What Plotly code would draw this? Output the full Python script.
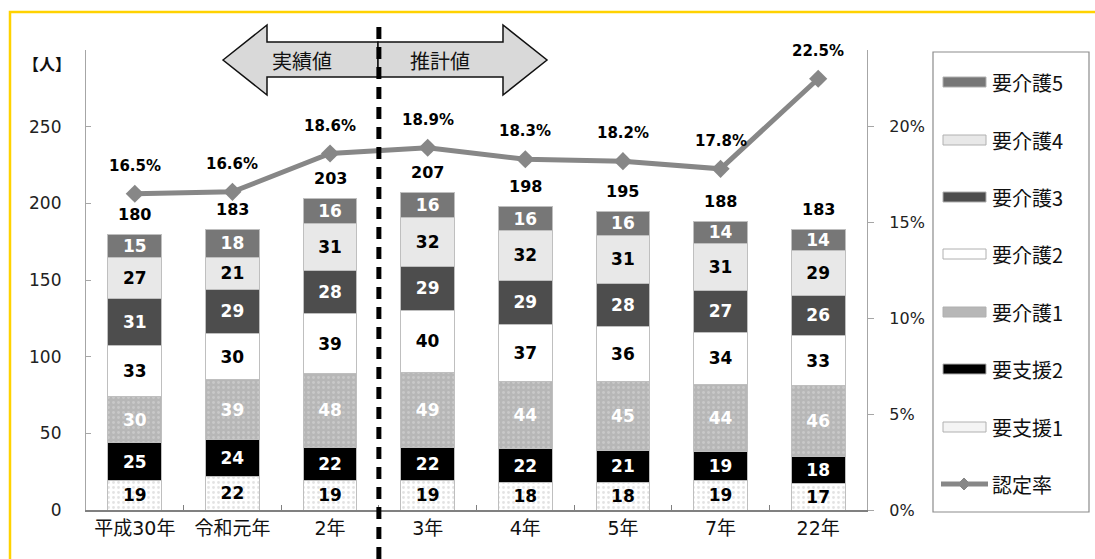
import plotly.graph_objects as go

categories = ["平成30年", "令和元年", "2年", "3年", "4年", "5年", "7年", "22年"]
shien1 = [19, 22, 19, 19, 18, 18, 19, 17]
shien2 = [25, 24, 22, 22, 22, 21, 19, 18]
kaigo1 = [30, 39, 48, 49, 44, 45, 44, 46]
kaigo2 = [33, 30, 39, 40, 37, 36, 34, 33]
kaigo3 = [31, 29, 28, 29, 29, 28, 27, 26]
kaigo4 = [27, 21, 31, 32, 32, 31, 31, 29]
kaigo5 = [15, 18, 16, 16, 16, 16, 14, 14]
totals = [180, 183, 203, 207, 198, 195, 188, 183]
rate = [16.5, 16.6, 18.6, 18.9, 18.3, 18.2, 17.8, 22.5]
left_ticks = [0, 50, 100, 150, 200, 250]
right_ticks = [0, 5, 10, 15, 20]
series_names = ["要支援1", "要支援2", "要介護1", "要介護2", "要介護3", "要介護4", "要介護5"]
rate_name = "認定率"

FONT = "DejaVu Sans, Noto Sans CJK JP"
CJK = "Noto Sans CJK JP"
W, H = 1095, 559
L, R, T, B = 86, 867, 50, 510

def px(x):
    return (x - L) / (R - L)

def py(y):
    return (B - y) / (B - T)

styles = [
    # color, pattern(fg, bg) or None, text color
    ("#ffffff", ("#c8c8c8", "#ffffff"), "#000000"),
    ("#000000", None, "#ffffff"),
    ("#b7b7b7", ("#d9d9d9", "#b7b7b7"), "#ffffff"),
    ("#ffffff", None, "#000000"),
    ("#4d4d4d", None, "#ffffff"),
    ("#e8e8e8", None, "#000000"),
    ("#777777", None, "#ffffff"),
]
values = [shien1, shien2, kaigo1, kaigo2, kaigo3, kaigo4, kaigo5]

fig = go.Figure()
for name, vals, (col, pat, tcol) in zip(series_names, values, styles):
    marker = dict(color=col, line=dict(color="#bfbfbf", width=1))
    if pat:
        marker["pattern"] = dict(shape=".", fgcolor=pat[0], bgcolor=pat[1], size=5, solidity=0.25)
    fig.add_trace(go.Bar(
        x=categories, y=vals, name=name, marker=marker,
        text=[str(v) for v in vals], textposition="inside", insidetextanchor="middle",
        textfont=dict(family=FONT, size=17, color=tcol, weight="bold"),
        showlegend=False, cliponaxis=False,
    ))

fig.add_trace(go.Scatter(
    x=categories, y=rate, yaxis="y2", mode="lines+markers", name=rate_name,
    line=dict(color="#878787", width=5),
    marker=dict(symbol="diamond", size=14, color="#878787"),
    showlegend=False, cliponaxis=False,
))

annotations = []
for c, t in zip(categories, totals):
    annotations.append(dict(x=c, y=t, xref="x", yref="y", text=str(t), showarrow=False,
                            yshift=20, font=dict(family=FONT, size=16, color="#000", weight="bold")))
for c, r in zip(categories, rate):
    annotations.append(dict(x=c, y=r, xref="x", yref="y2", text=f"{r}%", showarrow=False,
                            yshift=28, font=dict(family=FONT, size=15, color="#000", weight="bold")))

def label(x, y, text, size, anchor="center", weight="normal", family=FONT):
    annotations.append(dict(x=px(x), y=py(y), xref="paper", yref="paper", text=text, showarrow=False,
                            xanchor=anchor, yanchor="middle",
                            font=dict(family=family, size=size, color="#111", weight=weight)))

label(47, 63, "【人】", 16, weight="bold", family=CJK)
label(302, 61, "実績値", 20, family=CJK)
label(440, 61, "推計値", 20, family=CJK)

shapes = []
# yellow frame
shapes.append(dict(type="rect", xref="paper", yref="paper", x0=px(10), y0=py(12), x1=px(1110), y1=py(580),
                   line=dict(color="#FFD200", width=2.5), fillcolor="rgba(0,0,0,0)", layer="below"))

def path(points):
    return "M" + " L".join(f"{px(x):.5f},{py(y):.5f}" for x, y in points) + " Z"

left_arrow = [(223, 60), (267, 25), (267, 42), (378, 42), (378, 77), (267, 77), (267, 95)]
right_arrow = [(378, 42), (503, 42), (503, 25), (547, 60), (503, 95), (503, 77), (378, 77)]
for pts in (left_arrow, right_arrow):
    shapes.append(dict(type="path", xref="paper", yref="paper", path=path(pts),
                       fillcolor="#d9d9d9", line=dict(color="#111", width=1.5), layer="above"))

# dashed divider between actual and projected values
shapes.append(dict(type="line", xref="x", yref="paper", x0=2.5, x1=2.5, y0=py(559), y1=py(27),
                   line=dict(color="#000", width=5, dash="12px,8px"), layer="above"))

# legend box
shapes.append(dict(type="rect", xref="paper", yref="paper", x0=px(933), y0=py(52), x1=px(1089), y1=py(512),
                   line=dict(color="#8c8c8c", width=1.2), fillcolor="#fff"))
leg_y = [82, 140, 197, 254, 312, 369, 427, 484]
order = list(range(6, -1, -1))
for yy, idx in zip(leg_y[:7], order):
    col, pat, _ = styles[idx]
    fill = "#f4f4f4" if idx == 0 else col
    shapes.append(dict(type="rect", xref="paper", yref="paper", x0=px(943), x1=px(986),
                       y0=py(yy - 5), y1=py(yy + 5), fillcolor=fill,
                       line=dict(color="#b0b0b0", width=1)))
    label(990, yy, series_names[idx], 20, anchor="left", family=CJK)
yy = leg_y[7]
shapes.append(dict(type="line", xref="paper", yref="paper", x0=px(941), x1=px(988), y0=py(yy), y1=py(yy),
                   line=dict(color="#878787", width=5)))
shapes.append(dict(type="path", xref="paper", yref="paper",
                   path=path([(964, yy - 6), (970, yy), (964, yy + 6), (958, yy)]),
                   fillcolor="#878787", line=dict(color="#878787", width=1)))
label(990, yy, rate_name, 20, anchor="left", family=CJK)

fig.update_layout(
    width=W, height=H, autosize=False,
    margin=dict(l=L, r=W - R, t=T, b=H - B, pad=0),
    paper_bgcolor="#ffffff", plot_bgcolor="#ffffff",
    barmode="stack", bargap=0.45,
    showlegend=False,
    font=dict(family=FONT, color="#222"),
    uniformtext=dict(minsize=17, mode="show"),
    xaxis=dict(type="category", showline=True, linecolor="#808080", linewidth=1.5,
               ticks="inside", tickson="boundaries", ticklen=5, tickcolor="#808080",
               tickfont=dict(size=19, color="#111"), showgrid=False, zeroline=False),
    yaxis=dict(range=[0, 300], tickmode="array", tickvals=left_ticks, ticktext=[str(v) for v in left_ticks],
               showline=True, linecolor="#a6a6a6", linewidth=1.2,
               ticks="inside", ticklen=5, tickcolor="#a6a6a6", ticklabelstandoff=20,
               tickfont=dict(size=17, color="#222"), showgrid=False, zeroline=False),
    yaxis2=dict(range=[0, 24], tickmode="array", tickvals=right_ticks,
                ticktext=[f"{v}%" for v in right_ticks], overlaying="y", side="right",
                showline=True, linecolor="#a6a6a6", linewidth=1.2, ticks="outside", ticklen=6,
                tickcolor="#a6a6a6", ticklabelstandoff=12,
                tickfont=dict(size=16, color="#222"), showgrid=False, zeroline=False),
    annotations=annotations, shapes=shapes,
)

fig.write_html("out.html")
